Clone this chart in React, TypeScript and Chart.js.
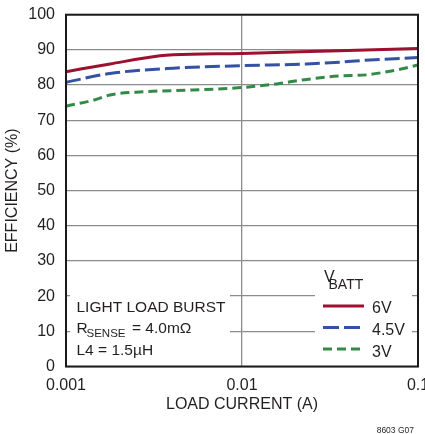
import { useEffect, useRef } from 'react';
import { Chart, registerables } from 'chart.js';

Chart.register(...registerables);

// ---- data ----
const X_TICKS = [0.001, 0.01, 0.1];
const X_TICK_LABELS = ['0.001', '0.01', '0.1'];
const Y_MIN = 0;
const Y_MAX = 100;
const Y_STEP = 10;

const X_6V = [0.001, 0.00178, 0.00342, 0.00407, 0.01, 0.0316, 0.1];
const Y_6V = [83.8, 86.0, 88.3, 88.6, 89.0, 89.7, 90.4];

const X_45V = [0.001, 0.00178, 0.00407, 0.01, 0.0233, 0.036, 0.0487, 0.1];
const Y_45V = [80.8, 83.3, 84.8, 85.5, 86.0, 86.5, 87.0, 87.8];

const X_3V = [0.001, 0.00143, 0.00178, 0.00274, 0.00527, 0.01, 0.015, 0.0233, 0.036, 0.0511, 0.0635, 0.079, 0.1];
const Y_3V = [74.0, 75.7, 77.2, 78.1, 78.6, 79.3, 80.2, 81.6, 82.6, 82.9, 83.6, 84.5, 85.7];

const SERIES_LABELS = ['6V', '4.5V', '3V'];
const SERIES_COLORS = ['#9e1030', '#3451a3', '#338a47'];
const SERIES_DASH: number[][] = [[], [15, 5], [9, 5]];
const LEGEND_DASH: number[][] = [[], [16, 5], [9, 5]];

const X_TITLE = 'LOAD CURRENT (A)';
const Y_TITLE = 'EFFICIENCY (%)';
const NOTE_LINE1 = 'LIGHT LOAD BURST';
const NOTE_LINE3 = 'L4 = 1.5µH';
const FIG_ID = '8603 G07';

const FONT = "'Liberation Sans', Arial, Helvetica, sans-serif";
const TEXT = '#231f20';
const GRID = '#8c8c8c';

const toPts = (xs: number[], ys: number[]) => xs.map((x, i) => ({ x, y: ys[i] }));

export default function App() {
  const ref = useRef<HTMLCanvasElement>(null);

  useEffect(() => {
    const canvas = ref.current!;
    const overlay = {
      id: 'overlay',
      beforeDatasetsDraw(chart: any) {
        const ctx = chart.ctx;
        ctx.save();
        ctx.fillStyle = '#ffffff';
        ctx.fillRect(70, 266, 160, 92);
        ctx.fillRect(315, 266, 97, 92);
        ctx.restore();
      },
      afterDraw(chart: any) {
        const ctx = chart.ctx;
        const ca = chart.chartArea;
        ctx.save();
        // frame
        ctx.strokeStyle = '#1a1a1a';
        ctx.lineWidth = 2;
        ctx.strokeRect(ca.left, ca.top, ca.right - ca.left, ca.bottom - ca.top);

        ctx.fillStyle = TEXT;
        ctx.textBaseline = 'alphabetic';
        ctx.textAlign = 'left';
        // annotation
        ctx.font = `15.5px ${FONT}`;
        ctx.fillText(NOTE_LINE1, 76.5, 311.5);
        ctx.fillText('R', 76.5, 332.5);
        ctx.font = `11.5px ${FONT}`;
        ctx.fillText('SENSE', 86.5, 336.7);
        ctx.font = `15.5px ${FONT}`;
        ctx.fillText('= 4.0mΩ', 132, 332.5);
        ctx.fillText(NOTE_LINE3, 76.5, 355);

        // legend
        ctx.font = `16px ${FONT}`;
        ctx.fillText('V', 324, 281.7);
        ctx.font = `14px ${FONT}`;
        ctx.fillText('BATT', 328.5, 289.3);
        const ly = [306, 327.5, 349];
        const lb = [313.3, 335, 356.5];
        SERIES_LABELS.forEach((lab, i) => {
          ctx.strokeStyle = SERIES_COLORS[i];
          ctx.lineWidth = 3;
          ctx.setLineDash(LEGEND_DASH[i]);
          ctx.beginPath();
          ctx.moveTo(323, ly[i]);
          ctx.lineTo(364, ly[i]);
          ctx.stroke();
          ctx.setLineDash([]);
          ctx.font = `16px ${FONT}`;
          ctx.fillText(lab, 372, lb[i]);
        });

        ctx.font = `8.5px ${FONT}`;
        ctx.textAlign = 'right';
        ctx.fillText(FIG_ID, 414, 432.5);
        ctx.restore();
      },
    };

    const series = [toPts(X_6V, Y_6V), toPts(X_45V, Y_45V), toPts(X_3V, Y_3V)];

    const chart = new Chart(canvas, {
      type: 'line',
      data: {
        datasets: series.map((d, i) => ({
          label: SERIES_LABELS[i],
          data: d,
          borderColor: SERIES_COLORS[i],
          backgroundColor: SERIES_COLORS[i],
          borderWidth: 3,
          borderDash: SERIES_DASH[i],
          pointRadius: 0,
          fill: false,
          cubicInterpolationMode: 'monotone',
        })),
      },
      options: {
        responsive: false,
        animation: false,
        layout: { padding: { top: 14.7, right: 7, left: 0, bottom: 0 } },
        plugins: { legend: { display: false }, tooltip: { enabled: false } },
        scales: {
          x: {
            type: 'logarithmic',
            min: X_TICKS[0],
            max: X_TICKS[X_TICKS.length - 1],
            grid: { color: GRID, lineWidth: 1.3, drawTicks: false },
            border: { display: false },
            ticks: {
              color: TEXT,
              font: { family: FONT, size: 16 },
              padding: 9.5,
              autoSkip: false,
              maxRotation: 0,
              minRotation: 0,
              callback: (_v: any, i: number) => X_TICK_LABELS[i],
            },
            title: {
              display: true,
              text: X_TITLE,
              color: TEXT,
              font: { family: FONT, size: 16 },
              padding: { top: 0, bottom: 19.6 },
            },
            afterBuildTicks: (s: any) => {
              s.ticks = X_TICKS.map((v) => ({ value: v }));
            },
            afterFit: (s: any) => {
              s.height = 67.5;
              s.paddingLeft = 0;
              s.paddingRight = 0;
            },
          },
          y: {
            type: 'linear',
            min: Y_MIN,
            max: Y_MAX,
            grid: { color: GRID, lineWidth: 1.3, drawTicks: false },
            border: { display: false },
            ticks: {
              stepSize: Y_STEP,
              color: TEXT,
              font: { family: FONT, size: 16 },
              padding: 11,
            },
            title: {
              display: true,
              text: Y_TITLE,
              color: TEXT,
              font: { family: FONT, size: 16 },
              padding: { top: 2.7, bottom: 0 },
            },
            afterFit: (s: any) => {
              s.width = 66;
              s.paddingTop = 0;
              s.paddingBottom = 0;
            },
          },
        },
      } as any,
      plugins: [overlay],
    });
    return () => chart.destroy();
  }, []);

  return (
    <div style={{ position: 'absolute', left: 0, top: 0, width: 425, height: 434, background: '#fff' }}>
      <canvas ref={ref} width={425} height={434} style={{ width: 425, height: 434, display: 'block' }} />
    </div>
  );
}
